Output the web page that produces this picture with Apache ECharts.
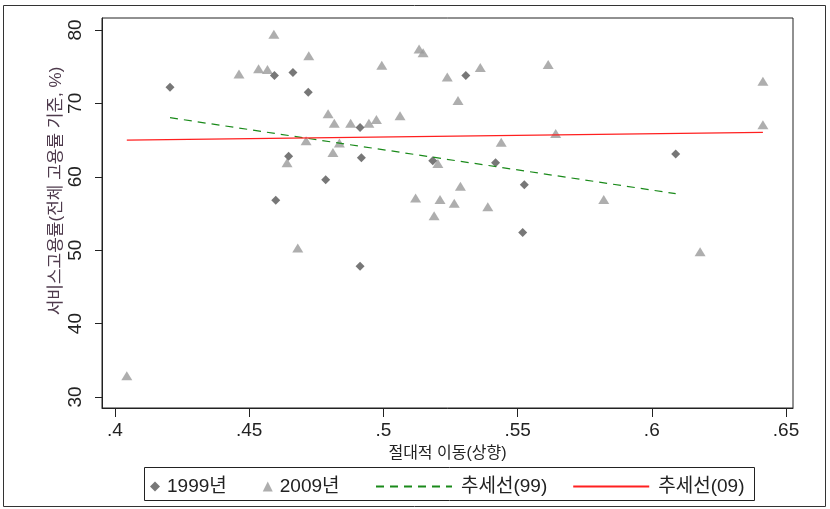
<!DOCTYPE html>
<html>
<head>
<meta charset="utf-8">
<script src="https://cdn.jsdelivr.net/npm/echarts@6/dist/echarts.min.js"></script>
<style>
  html, body { margin: 0; padding: 0; background: #fff; }
  #chart { width: 830px; height: 509px; }
</style>
</head>
<body>
<div id="chart"></div>
<script>
// Axis ticks
const xTicks = [0.4, 0.45, 0.5, 0.55, 0.6, 0.65];
const yTicks = [30, 40, 50, 60, 70, 80];

// 1999: absolute upward mobility vs. service employment rate (%)
const mob1999 = [0.4205, 0.4594, 0.4663, 0.4720, 0.4647, 0.4785, 0.4599, 0.5307,
                 0.4913, 0.4918, 0.5184, 0.5418, 0.5525, 0.5519, 0.4913, 0.6089];
const emp1999 = [72.2, 73.8, 74.2, 71.5, 62.8, 59.6, 56.8, 73.8,
                 66.7, 62.6, 62.2, 61.9, 58.9, 52.4, 47.8, 63.1];

// 2009
const mob2009 = [0.4592, 0.4722, 0.4462, 0.4535, 0.4568, 0.4794, 0.4817, 0.4712,
                 0.4836, 0.4812, 0.4641, 0.4681, 0.4044, 0.5133, 0.5148, 0.4994,
                 0.5238, 0.5361, 0.5614, 0.5278, 0.5062, 0.4878, 0.4946, 0.4974,
                 0.5642, 0.5439, 0.5203, 0.5287, 0.5120, 0.5211, 0.5264, 0.5389,
                 0.5189, 0.5821, 0.6414, 0.6414, 0.6180];
const emp2009 = [79.4, 76.5, 74.0, 74.7, 74.6, 68.6, 67.3, 64.9,
                 64.6, 63.3, 61.9, 50.3, 32.9, 77.4, 76.9, 75.2,
                 73.6, 74.9, 75.3, 70.4, 68.3, 67.3, 67.3, 67.8,
                 65.9, 64.7, 61.8, 58.7, 57.1, 56.9, 56.4, 55.9,
                 54.7, 56.9, 73.0, 67.1, 49.8];

// Fitted trend lines (end points)
const trend99X = [0.4205, 0.6089];
const trend99Y = [68.05, 57.7];
const trend09X = [0.4044, 0.6414];
const trend09Y = [65.0, 66.06];

// Legend labels
const names = ['1999년', '2009년', '추세선(99)', '추세선(09)'];

const zip = (xs, ys) => xs.map((x, i) => [x, ys[i]]);
const FONT = '"Liberation Sans", "Noto Sans CJK KR", sans-serif';

const chart = echarts.init(document.getElementById('chart'), null, { renderer: 'canvas' });

chart.setOption({
  animation: false,
  backgroundColor: '#fff',
  grid: {
    left: 102, top: 18, right: 37, bottom: 101,
    show: true, borderColor: '#222', borderWidth: 1, backgroundColor: 'transparent'
  },
  xAxis: {
    type: 'value',
    min: 0.39516, max: 0.65261,
    name: '절대적 이동(상향)',
    nameLocation: 'middle',
    nameGap: 38,
    nameMoveOverlap: false,
    nameTextStyle: { fontFamily: FONT, fontSize: 16, color: '#222' },
    axisLine: { show: true, onZero: false, lineStyle: { color: '#222', width: 1 } },
    axisTick: { show: true, inside: false, length: 9, customValues: xTicks, lineStyle: { color: '#222' } },
    axisLabel: {
      customValues: xTicks,
      fontFamily: FONT, fontSize: 19, color: '#222', margin: 13,
      formatter: v => String(+v.toFixed(2)).replace(/^0/, '')
    },
    splitLine: { show: false }
  },
  yAxis: {
    type: 'value',
    min: 28.50, max: 81.63,
    name: '서비스고용률(전체 고용률 기준, %)',
    nameLocation: 'middle',
    nameRotate: 90,
    nameGap: 37,
    nameMoveOverlap: false,
    nameTextStyle: { fontFamily: FONT, fontSize: 17, color: '#4e3a4c', padding: [0, 0, 0, 44] },
    axisLine: { show: true, onZero: false, lineStyle: { color: '#222', width: 1 } },
    axisTick: { show: true, inside: false, length: 7, customValues: yTicks, lineStyle: { color: '#222' } },
    axisLabel: {
      customValues: yTicks,
      rotate: 90,
      fontFamily: FONT, fontSize: 19, color: '#222', margin: 17
    },
    splitLine: { show: false }
  },
  legend: [
    {
      data: [names[0], names[1]],
      left: 150, top: 477, padding: 0,
      itemWidth: 10, itemHeight: 10, itemGap: 36,
      textStyle: { fontFamily: FONT, fontSize: 19, color: '#222', padding: [0, 0, 0, 2] }
    },
    {
      data: [names[2], names[3]],
      left: 375, top: 477, padding: 0,
      itemWidth: 76, itemHeight: 10, itemGap: 25,
      itemStyle: { opacity: 0 },
      textStyle: { fontFamily: FONT, fontSize: 19, color: '#222', padding: [0, 0, 0, 4] }
    }
  ],
  graphic: [
    {
      type: 'rect', silent: true, z: -1,
      shape: { x: 3.5, y: 5.5, width: 822, height: 501 },
      style: { fill: 'none', stroke: '#333', lineWidth: 1 }
    },
    {
      type: 'rect', silent: true,
      shape: { x: 144.5, y: 467.5, width: 610, height: 33 },
      style: { fill: 'none', stroke: '#222', lineWidth: 1 }
    }
  ],
  series: [
    {
      name: names[0], type: 'scatter',
      symbol: 'diamond', symbolSize: [9, 9],
      itemStyle: { color: '#555555' },
      data: zip(mob1999, emp1999), z: 4
    },
    {
      name: names[1], type: 'scatter',
      symbol: 'triangle', symbolSize: [11, 9],
      itemStyle: { color: '#9a9a9a' },
      data: zip(mob2009, emp2009), z: 3
    },
    {
      name: names[2], type: 'line',
      symbol: 'none',
      lineStyle: { color: '#1a8a1a', width: 1.2, type: [8, 6] },
      itemStyle: { color: '#1a8a1a' },
      data: zip(trend99X, trend99Y), z: 5
    },
    {
      name: names[3], type: 'line',
      symbol: 'none',
      lineStyle: { color: '#ff2020', width: 1.3 },
      itemStyle: { color: '#ff2020' },
      data: zip(trend09X, trend09Y), z: 5
    }
  ]
});
</script>
</body>
</html>
